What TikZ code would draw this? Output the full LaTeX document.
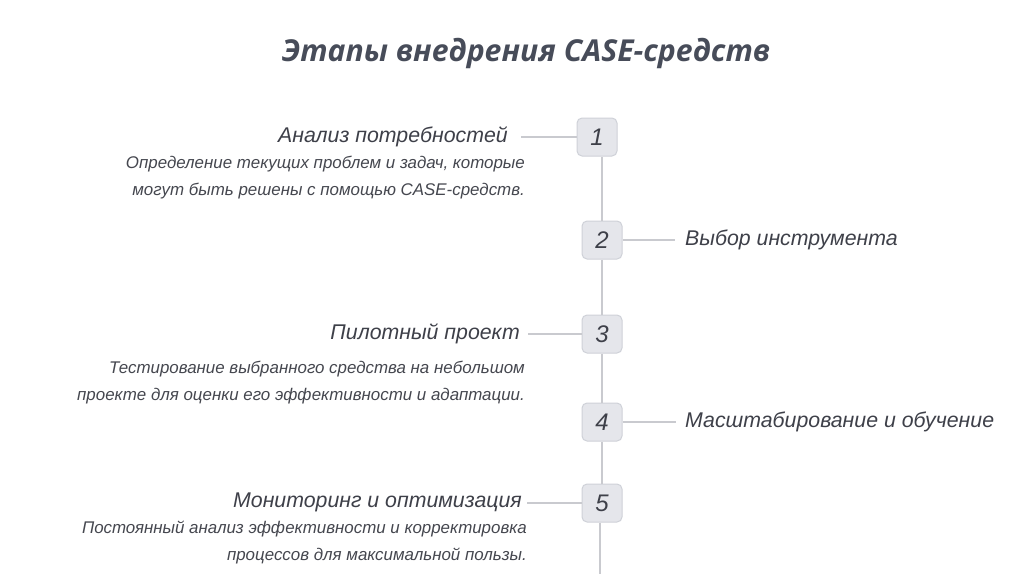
\documentclass[tikz,border=0pt]{standalone}
\usepackage{fontspec}
\setmainfont{Liberation Sans}
\newfontfamily\titlefont{Open Sans}
\definecolor{titlecol}{HTML}{474C59}
\definecolor{headcol}{HTML}{3E4049}
\definecolor{desccol}{HTML}{45474F}
\definecolor{boxfill}{HTML}{E5E6EB}
\definecolor{boxline}{HTML}{CFD1D8}
\definecolor{linecol}{HTML}{C9CACF}
\begin{document}
\begin{tikzpicture}[x=1pt,y=-1pt,
  numbox/.style={draw=boxline,fill=boxfill,rounded corners=5pt,minimum width=40pt,minimum height=38pt,inner sep=0pt,font=\fontsize{24}{28}\selectfont\itshape,text=headcol,line width=1pt},
  head/.style={inner sep=0pt,font=\fontsize{21.3}{25}\selectfont\itshape,text=headcol},
  desc/.style={inner sep=0pt,font=\fontsize{16.9}{27}\selectfont\itshape,text=desccol,align=right},
  conn/.style={draw=linecol,line width=1.2pt}]
\useasboundingbox (0,0) rectangle (1024,574);
\fill[white] (0,0) rectangle (1024,574);
\node[inner sep=0pt,font=\titlefont\fontsize{30.2}{34}\selectfont\bfseries\itshape,text=titlecol] (title) at (526,53) {Этапы внедрения CASE-средств};
% boxes
\node[numbox] (b1) at (597,137) {1};
\node[numbox] (b2) at (602,240) {2};
\node[numbox] (b3) at (602,334) {3};
\node[numbox] (b4) at (602,422) {4};
\node[numbox] (b5) at (602,503) {5};
\coordinate (bot) at (600,574);
% heads
\node[head,anchor=east] (t1) at (508,137) {Анализ потребностей};
\node[head,anchor=west] (t2) at (685,240) {Выбор инструмента};
\node[head,anchor=east] (t3) at (520,334) {Пилотный проект};
\node[head,anchor=west] (t4) at (685,422) {Масштабирование и обучение};
\node[head,anchor=east] (t5) at (522,502) {Мониторинг и оптимизация};
% descriptions
\node[desc,anchor=north east] (d1) at (525,156) {Определение текущих проблем и задач, которые\\могут быть решены с помощью CASE-средств.};
\node[desc,anchor=north east] (d3) at (525,361) {Тестирование выбранного средства на небольшом\\проекте для оценки его эффективности и адаптации.};
\node[desc,anchor=north east] (d5) at (527,521) {Постоянный анализ эффективности и корректировка\\процессов для максимальной пользы.};
% vertical spine
\draw[conn] (b2.north) -- (b2.north |- b1.south);
\draw[conn] (b2.south) -- (b3.north);
\draw[conn] (b3.south) -- (b4.north);
\draw[conn] (b4.south) -- (b5.north);
\draw[conn] ([xshift=-2pt]b5.south) -- (bot);
% connectors
\draw[conn] (b1.west) -- ([xshift=13pt]b1.west -| t1.east);
\draw[conn] (b2.east) -- ([xshift=-10pt]b2.east -| t2.west);
\draw[conn] (b3.west) -- ([xshift=8pt]b3.west -| t3.east);
\draw[conn] (b4.east) -- ([xshift=-9pt]b4.east -| t4.west);
\draw[conn] (b5.west) -- ([xshift=5pt]b5.west -| t5.east);
\end{tikzpicture}
\end{document}
